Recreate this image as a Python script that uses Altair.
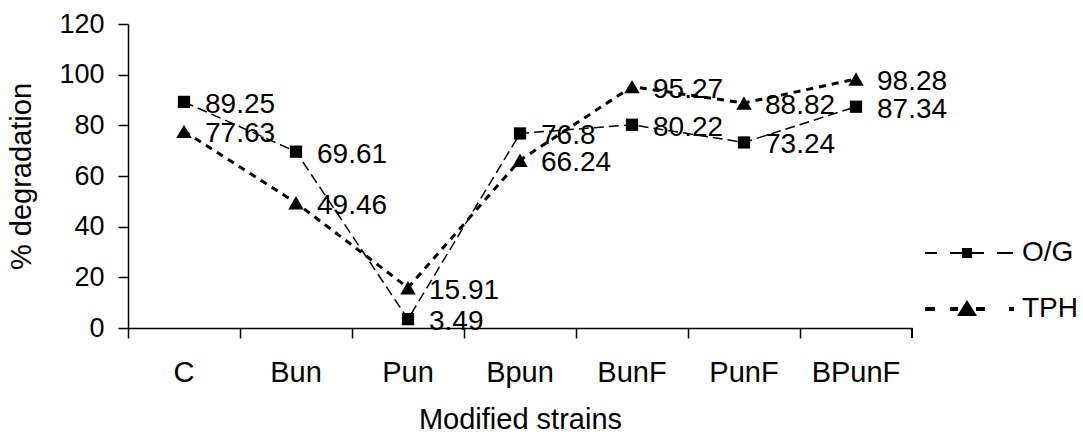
import altair as alt
import pandas as pd

categories = ["C", "Bun", "Pun", "Bpun", "BunF", "PunF", "BPunF"]
og_values = [89.25, 69.61, 3.49, 76.8, 80.22, 73.24, 87.34]
tph_values = [77.63, 49.46, 15.91, 66.24, 95.27, 88.82, 98.28]
series_names = ["O/G", "TPH"]
y_ticks = [0, 20, 40, 60, 80, 100, 120]

rows = []
for name, vals in zip(series_names, [og_values, tph_values]):
    for c, v in zip(categories, vals):
        rows.append({"strain": c, "value": v, "series": name, "label": f"{v:g}"})
df = pd.DataFrame(rows)

W, H = 784, 304
FS = 28
U = 15.0  # legend symbol px per unit (sqrt(900)/2)


def rect(x0, x1, h):
    return f"M{x0/U:.3f},{-h/U:.3f}H{x1/U:.3f}V{h/U:.3f}H{x0/U:.3f}Z"


og_sym = " ".join([rect(-42, -30, 1), rect(-17, -5, 1), rect(-5, 5, 5), rect(5, 17, 1), rect(30, 46, 1)])
tph_sym = " ".join([rect(-42, -32, 2), rect(-17, -9, 2),
                    f"M{-10/U:.3f},{7/U:.3f}L0,{-9/U:.3f}L{10/U:.3f},{7/U:.3f}Z",
                    rect(9, 18, 2), rect(42, 47, 2)])

x_enc = alt.X(
    "strain:N", sort=categories,
    scale=alt.Scale(type="band", paddingInner=0, paddingOuter=0),
    axis=alt.Axis(title="Modified strains", bandPosition=0, labelAngle=0, tickSize=10,
                  labelPadding=20, titlePadding=18, grid=False, labelFontSize=29),
)
y_enc = alt.Y(
    "value:Q", scale=alt.Scale(domain=[0, 120], nice=False),
    axis=alt.Axis(title="% degradation", values=y_ticks, tickSize=10, labelPadding=14,
                  titlePadding=22, grid=False, labelFontSize=27),
)

base = alt.Chart(df).encode(x=x_enc, y=y_enc)

og_line = base.transform_filter(alt.datum.series == "O/G").mark_line(
    color="black", strokeWidth=1.5, strokeDash=[10, 5])
tph_line = base.transform_filter(alt.datum.series == "TPH").mark_line(
    color="black", strokeWidth=3, strokeDash=[7, 6])

og_points = base.transform_filter(alt.datum.series == "O/G").mark_point(
    filled=True, color="black", opacity=1, size=150, shape="square")
tph_points = base.transform_filter(alt.datum.series == "TPH").mark_point(
    filled=True, color="black", opacity=1, size=240, shape="triangle-up")

labels = base.mark_text(align="left", baseline="middle", dx=21, dy=3, fontSize=FS,
                        font="Liberation Sans", color="black").encode(text="label:N")

legend_layer = base.transform_filter("false").mark_point(
    filled=True, color="black", opacity=1, size=900).encode(
    shape=alt.Shape("series:N", scale=alt.Scale(domain=series_names, range=[og_sym, tph_sym]),
                    legend=alt.Legend(title=None, orient="none", legendX=824, legendY=214,
                                      symbolSize=900, symbolFillColor="black", symbolStrokeWidth=0,
                                      labelFontSize=FS, labelOffset=40, rowPadding=27, padding=0,
                                      labelFont="Liberation Sans", labelColor="black")))

end_tick = alt.Chart(df).mark_rule(color="black", strokeWidth=1.5).encode(
    x=alt.value(W), y=alt.value(H), y2=alt.value(H + 10))

chart = alt.layer(og_line, tph_line, og_points, tph_points, labels, legend_layer, end_tick).properties(
    width=W, height=H,
    autosize=alt.AutoSizeParams(type="none"),
    padding={"left": 128, "top": 24, "right": 171, "bottom": 110},
).configure_view(stroke=None).configure_axis(
    labelFont="Liberation Sans", titleFont="Liberation Sans", labelFontSize=FS, titleFontSize=29,
    labelColor="black", titleColor="black", titleFontWeight="normal",
    domainColor="black", tickColor="black", domainWidth=1.5, tickWidth=1.5,
)

chart.save("out.html", embed_options={"renderer": "svg", "actions": False})
